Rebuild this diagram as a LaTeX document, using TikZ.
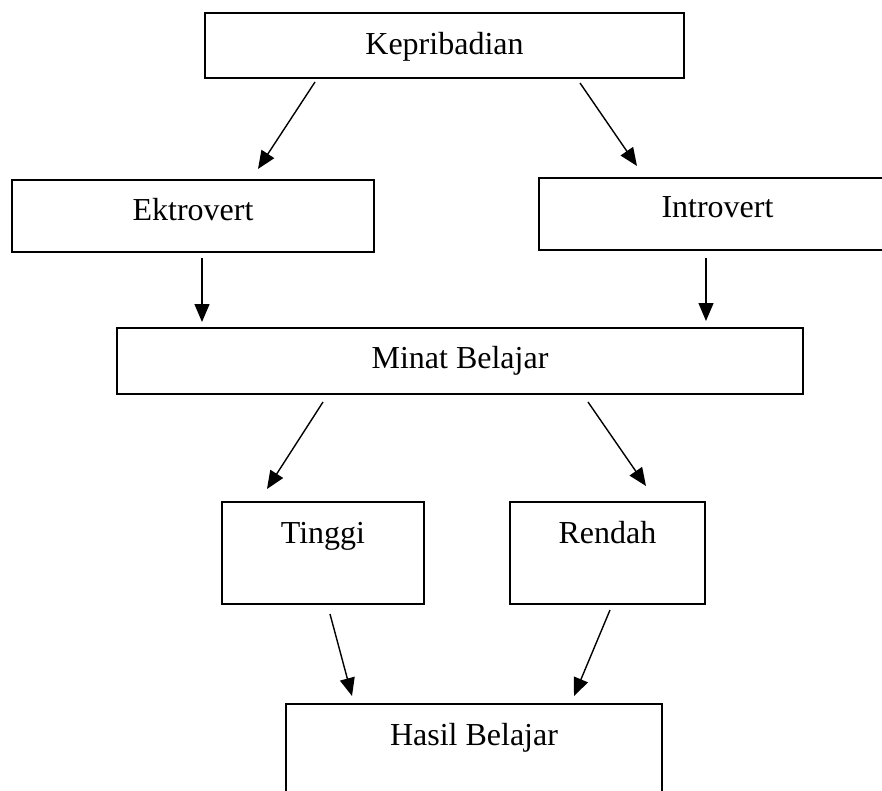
\documentclass[tikz,border=0pt]{standalone}
\usepackage{fontspec}
\setmainfont{Liberation Serif}
\usetikzlibrary{calc,arrows.meta}

\tikzset{
  box/.style={draw=black, line width=1.5pt, rectangle, inner xsep=0pt, inner ysep=0pt,
    outer sep=0pt, font=\fontsize{32}{38}\selectfont},
  arr/.style={draw=black, line width=1.4pt, -{Triangle[length=18pt,width=15pt]}}
}

\begin{document}
\begin{tikzpicture}[x=1pt,y=1pt,yscale=-1,xscale=1]
\clip (0,0) rectangle (882,791);

%Shape: Rectangle [kep]
\node[box, minimum width=479pt, text height=42pt, text depth=23pt] (kep) at (444.5,45.5) {Kepribadian};
%Shape: Rectangle [ekt]
\node[box, minimum width=362pt, text height=41pt, text depth=31pt] (ekt) at (193,216) {Ektrovert};
%Shape: Rectangle [intr]
\node[box, minimum width=357pt, text height=40pt, text depth=32pt] (intr) at (717.5,214) {Introvert};
%Shape: Rectangle [minat]
\node[box, minimum width=686pt, text height=40pt, text depth=26pt] (minat) at (460,361) {Minat Belajar};
%Shape: Rectangle [ting]
\node[box, minimum width=202pt, text height=41pt, text depth=61pt] (ting) at (323,553) {Tinggi};
%Shape: Rectangle [rend]
\node[box, minimum width=195pt, text height=41pt, text depth=61pt] (rend) at (607.5,553) {Rendah};
%Shape: Rectangle [hasil]
\node[box, minimum width=376pt, text height=41pt, text depth=75pt] (hasil) at (474,762) {Hasil Belajar};

%Straight Lines
\draw[arr] ($(kep.south west)+(110,4)$) -- ($(ekt.north west)+(246,-11)$);
\draw[arr] ($(kep.south east)+(-104,5)$) -- ($(intr.north west)+(98,-12)$);
\draw[arr] ($(ekt.south west)+(190,6)$) -- ($(minat.north west)+(85,-6)$);
\draw[arr] ($(intr.south west)+(167,8)$) -- ($(minat.north east)+(-97,-7)$);
\draw[arr] ($(minat.south west)+(206,8)$) -- ($(ting.north west)+(45,-13)$);
\draw[arr] ($(minat.south east)+(-215,8)$) -- ($(rend.north east)+(-59,-16)$);
\draw[arr] ($(ting.south west)+(108,10)$) -- ($(hasil.north west)+(66,-8)$);
\draw[arr] ($(rend.south west)+(100,6)$) -- ($(hasil.north east)+(-88,-8)$);

\end{tikzpicture}
\end{document}
